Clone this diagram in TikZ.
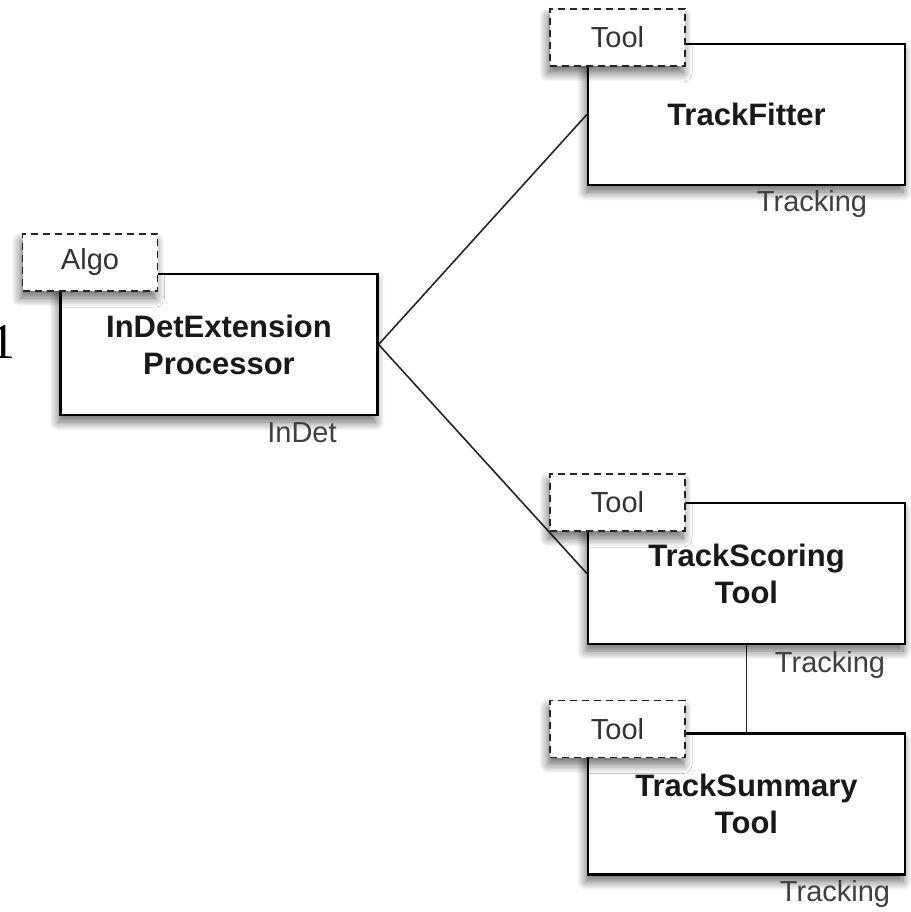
\documentclass[tikz,border=0pt]{standalone}
\usepackage{fontspec}
\setmainfont{Liberation Sans}
\newfontfamily\serifdigit{Liberation Serif}
\usetikzlibrary{shadows.blur,backgrounds}

\tikzset{
  softshadow/.style={blur shadow={shadow xshift=-2pt, shadow yshift=-7pt,
      shadow blur radius=9pt, shadow blur steps=12, shadow opacity=60}},
  comp/.style={draw=black, line width=2.2pt, fill=white, softshadow,
      minimum width=317pt, minimum height=141pt, inner sep=0pt,
      align=center, text=black!90,
      font=\bfseries\fontsize{31}{37}\selectfont},
  tag/.style={draw=black!85, line width=1.5pt, dash pattern=on 7pt off 5pt,
      fill=white, softshadow, minimum width=135pt, minimum height=57pt,
      inner sep=0pt, text=black!80, font=\fontsize{29}{34}\selectfont},
  pkg/.style={inner sep=0pt, text=black!75, font=\fontsize{29}{34}\selectfont},
  link/.style={draw=black!85, line width=1.6pt}
}

\begin{document}
\begin{tikzpicture}[x=1pt, y=-1pt]
  \useasboundingbox (0,0) rectangle (910,912);

  % components
  \node[comp] (proc)    at (219,344.5)   {InDetExtension\\Processor};
  \node[comp] (fitter)  at (746.5,114.5) {TrackFitter};
  \node[comp] (scoring) at (746.5,573.5) {TrackScoring\\Tool};
  \node[comp] (summary) at (746.5,804)   {TrackSummary\\Tool};

  % stereotype tags
  \node[tag] (algotag)    at (90,262.5)    {Algo};
  \node[tag] (fittertag)  at (617.5,37.5)  {Tool};
  \node[tag] (scoringtag) at (617.5,502.5) {Tool};
  \node[tag] (summarytag) at (617.5,729)   {Tool};

  % package labels
  \node[pkg] (procpkg)    at (302,433) {InDet};
  \node[pkg] (fitterpkg)  at (812,204) {Tracking};
  \node[pkg] (scoringpkg) at (830,665) {Tracking};
  \node[pkg] (summarypkg) at (835,894) {Tracking};

  % margin digit at the left edge
  \node[inner sep=0pt, anchor=base west, text=black,
        font=\serifdigit\fontsize{50}{50}\selectfont] (margin) at (-10,358) {1};

  % connectors
  \begin{scope}[on background layer]
    \draw[link] (proc.east) -- (fitter.west);
    \draw[link] (proc.east) -- (scoring.west);
    \draw[link] (scoring.south) -- (summary.north);
  \end{scope}
\end{tikzpicture}
\end{document}
